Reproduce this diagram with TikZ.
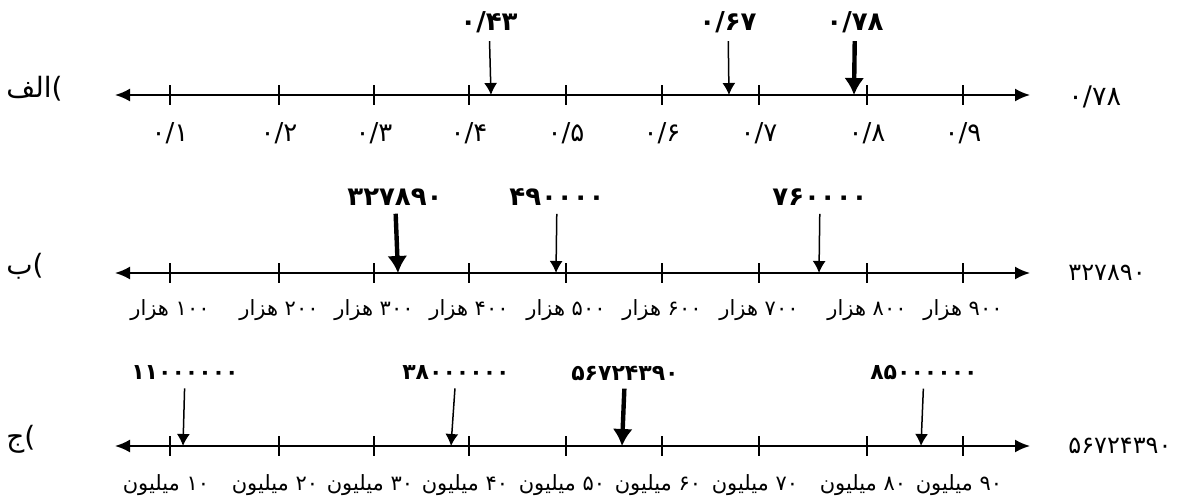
\documentclass[tikz,border=0pt]{standalone}
\usepackage{fontspec}
\usepackage{tikz}
\usetikzlibrary{arrows.meta}
\TeXXeTstate=1
\newfontfamily\arabicfont[Script=Arabic]{DejaVu Sans}

\tikzset{
  numline/.style={line width=1pt, {Latex[length=7.5pt,width=6.5pt]}-{Latex[length=7.5pt,width=6.5pt]}},
  tickmark/.style={line width=0.8pt},
  thinptr/.style={line width=0.75pt, -{Latex[length=6pt,width=6.5pt]}, shorten <=2pt},
  thickptr/.style={line width=2.2pt, -{Latex[length=8.5pt,width=10pt]}, shorten <=2pt},
  ticklabel/.style={font=\arabicfont\fontsize{10.5}{12}\selectfont, inner sep=1pt},
  declabel/.style={font=\arabicfont\fontsize{13}{15}\selectfont, inner sep=1pt},
  toplabel/.style={font=\arabicfont\bfseries\fontsize{13}{15}\selectfont, inner sep=2pt},
  toplabelsm/.style={toplabel, font=\arabicfont\bfseries\fontsize{11}{13}\selectfont},
  endlabel/.style={anchor=west, font=\arabicfont\fontsize{12}{14}\selectfont, inner sep=0pt},
  rowlabel/.style={anchor=west, font=\arabicfont\fontsize{14}{16}\selectfont, inner sep=0pt}
}

\begin{document}
\begin{tikzpicture}[x=0.5pt, y=-0.5pt]
  \useasboundingbox (0,0) rectangle (1195,499);

  % row A: decimals
  \node[rowlabel] (rowA) at (6,89) {{\beginR الف\endR})};
  \coordinate (aL) at (115,95);
  \coordinate (aR) at (1030,95);
  \draw[numline] (aL) -- (aR);
  \foreach \x/\dig in {170/۱,279/۲,374/۳,469/۴,566/۵,662/۶,759/۷,867/۸,963/۹} {
    \draw[tickmark] (\x,85) -- (\x,105);
    \node[declabel] (a\dig) at (\x,133) {۰/\dig};
  }
  \node[endlabel, font=\arabicfont\fontsize{13.5}{15}\selectfont] (aEnd) at (1068,97) {۰/۷۸};
  \node[toplabel] (a43) at (489,22) {۰/۴۳};
  \coordinate (a43p) at (491,95);
  \draw[thinptr] (a43) -- (a43p);
  \node[toplabel] (a67) at (728,22) {۰/۶۷};
  \coordinate (a67p) at (729,95);
  \draw[thinptr] (a67) -- (a67p);
  \node[toplabel] (a78) at (855,22) {۰/۷۸};
  \coordinate (a78p) at (854,95);
  \draw[thickptr] (a78) -- (a78p);

  % row B: thousands
  \node[rowlabel] (rowB) at (6,266) {{\beginR ب\endR})};
  \coordinate (bL) at (115,273);
  \coordinate (bR) at (1030,273);
  \draw[numline] (bL) -- (bR);
  \foreach \x/\dig in {170/۱,279/۲,374/۳,469/۴,566/۵,662/۶,759/۷,867/۸,963/۹} {
    \draw[tickmark] (\x,263) -- (\x,283);
    \node[ticklabel] (b\dig) at (\x,310) {\beginR \dig۰۰ هزار\endR};
  }
  \node[endlabel] (bEnd) at (1068,273) {۳۲۷۸۹۰};
  \node[toplabel] (b3) at (395,197) {۳۲۷۸۹۰};
  \coordinate (b3p) at (398,273);
  \draw[thickptr] (b3) -- (b3p);
  \node[toplabel] (b49) at (557,197) {۴۹۰۰۰۰};
  \coordinate (b49p) at (556,273);
  \draw[thinptr] (b49) -- (b49p);
  \node[toplabel] (b76) at (820,197) {۷۶۰۰۰۰};
  \coordinate (b76p) at (819,273);
  \draw[thinptr] (b76) -- (b76p);

  % row C: millions
  \node[rowlabel] (rowC) at (6,439) {{\beginR ج\endR})};
  \coordinate (cL) at (115,446);
  \coordinate (cR) at (1030,446);
  \draw[numline] (cL) -- (cR);
  \foreach \x/\dig in {170/۱,279/۲,374/۳,469/۴,566/۵,662/۶,759/۷,867/۸,963/۹} {
    \draw[tickmark] (\x,436) -- (\x,456);
    \node[ticklabel] (c\dig) at (\x-4,485) {\beginR \dig۰ میلیون\endR};
  }
  \node[endlabel] (cEnd) at (1068,446) {۵۶۷۲۴۳۹۰};
  \node[toplabelsm] (c11) at (185,373) {۱۱۰۰۰۰۰۰};
  \coordinate (c11p) at (183,446);
  \draw[thinptr] (c11) -- (c11p);
  \node[toplabelsm] (c38) at (456,373) {۳۸۰۰۰۰۰۰};
  \coordinate (c38p) at (451,446);
  \draw[thinptr] (c38) -- (c38p);
  \node[toplabelsm] (c56) at (625,373) {۵۶۷۲۴۳۹۰};
  \coordinate (c56p) at (622,446);
  \draw[thickptr] (c56) -- (c56p);
  \node[toplabelsm] (c85) at (924,373) {۸۵۰۰۰۰۰۰};
  \coordinate (c85p) at (921,446);
  \draw[thinptr] (c85) -- (c85p);
\end{tikzpicture}
\end{document}
